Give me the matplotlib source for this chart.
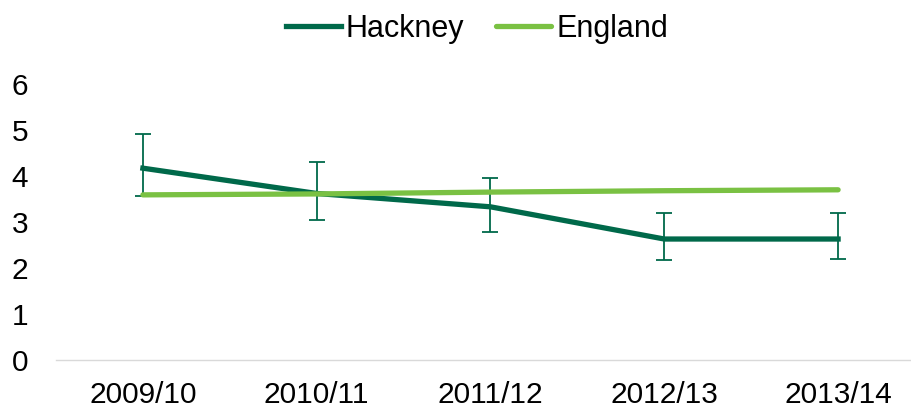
import matplotlib.pyplot as plt
import numpy as np

plt.rcParams['font.family'] = ['Liberation Sans', 'DejaVu Sans']

years = ['2009/10', '2010/11', '2011/12', '2012/13', '2013/14']
hackney = [4.17, 3.62, 3.33, 2.63, 2.63]
hackney_low = [3.56, 3.05, 2.78, 2.18, 2.20]
hackney_high = [4.92, 4.30, 3.95, 3.20, 3.20]
england = [3.59, 3.61, 3.65, 3.68, 3.70]

dark = '#00694A'
light = '#7AC143'

fig = plt.figure(figsize=(9.12, 4.09), dpi=100)
ax = fig.add_axes([56 / 912, 49 / 409, (925 - 56) / 912, (360 - 84) / 409])

x = np.arange(len(years))
err = [np.array(hackney) - np.array(hackney_low), np.array(hackney_high) - np.array(hackney)]
ax.errorbar(x, hackney, yerr=err, fmt='none', ecolor=dark, elinewidth=1.3,
            capsize=6, capthick=1.3, zorder=2)
ax.plot(x, hackney, color=dark, lw=3.8, label='Hackney', zorder=3)
ax.plot(x, england, color=light, lw=3.8, label='England', zorder=4, solid_capstyle='round')

ax.set_xlim(-0.5, 4.5)
ax.set_ylim(0, 6)
ax.set_yticks(range(7))
ax.set_xticks(x)
ax.set_xticklabels(years)
ax.tick_params(axis='both', length=0, labelsize=21.5)
ax.tick_params(axis='y', pad=32)
ax.tick_params(axis='x', pad=15)
for lab in ax.get_yticklabels():
    lab.set_horizontalalignment('left')
for s in ['top', 'right', 'left']:
    ax.spines[s].set_visible(False)
ax.spines['bottom'].set_color('#d9d9d9')
ax.spines['bottom'].set_linewidth(1)

leg = fig.legend(loc='center', bbox_to_anchor=(477 / 912, 1 - 29 / 409), ncol=2, frameon=False,
                 fontsize=22, handlelength=1.8, handletextpad=0.17, columnspacing=1.05)

fig.savefig('out.png', dpi=100)
